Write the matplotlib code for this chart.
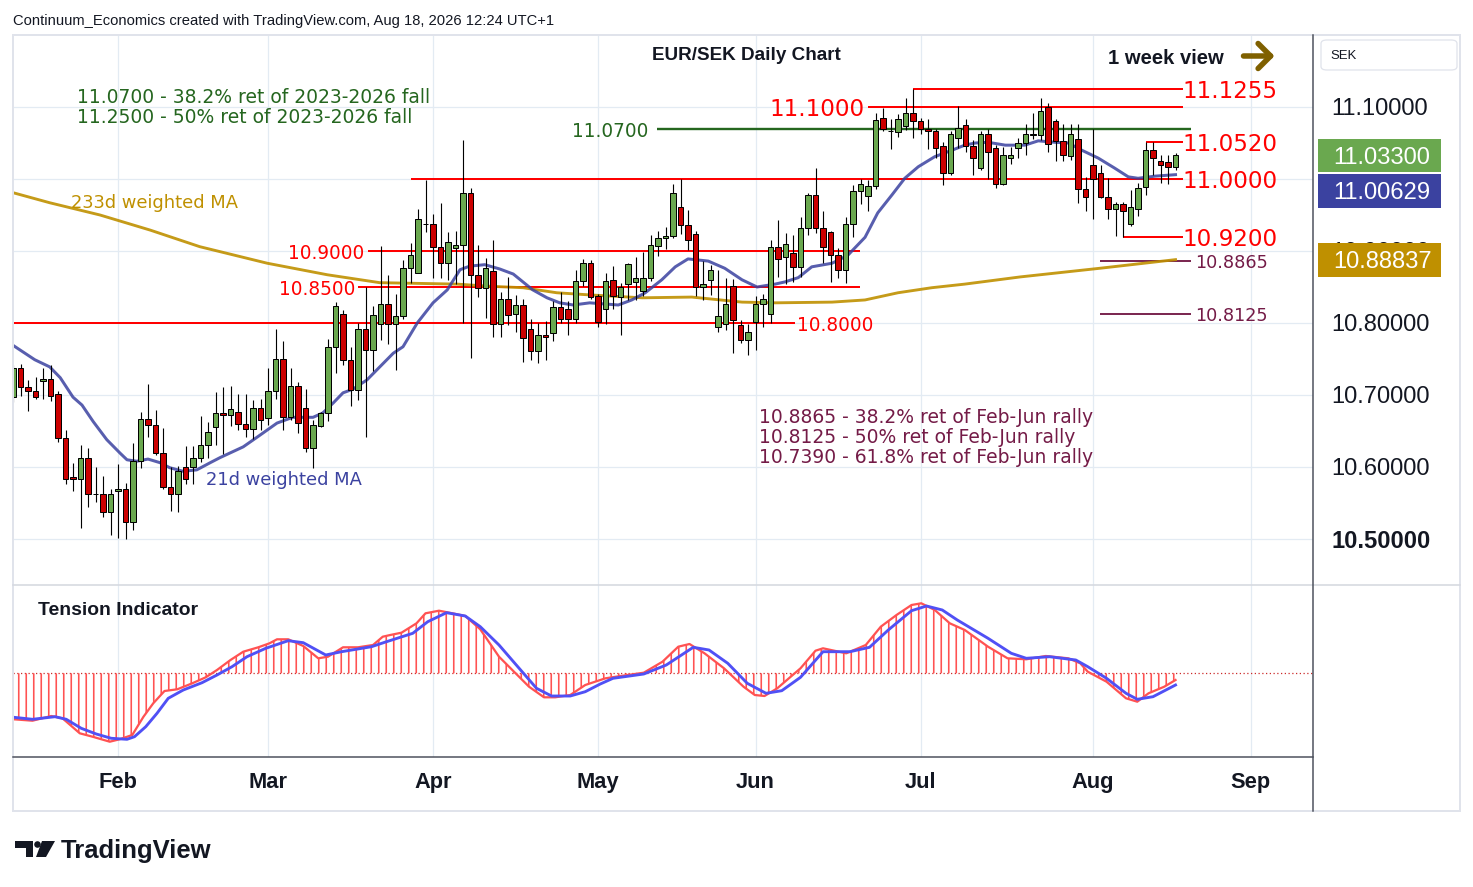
import numpy as np
import pandas as pd
import matplotlib
matplotlib.use("Agg")
import matplotlib.pyplot as plt
from matplotlib.patches import Rectangle, FancyBboxPatch, FancyArrowPatch, Polygon, Ellipse
from matplotlib.lines import Line2D
from matplotlib.transforms import ScaledTranslation

W, H, DPI = 1474, 887, 90

# daily EUR/SEK candles, one per weekday from 13 Jan 2026 to 18 Aug 2026
first_day = "2026-01-13"
opens = [10.697, 10.738, 10.711, 10.705, 10.719, 10.722, 10.702, 10.640, 10.586, 10.584,
         10.613, 10.563, 10.562, 10.538, 10.566, 10.570, 10.523, 10.609, 10.666, 10.659,
         10.619, 10.572, 10.562, 10.600, 10.600, 10.612, 10.631, 10.655, 10.675, 10.672,
         10.677, 10.660, 10.653, 10.682, 10.668, 10.705, 10.750, 10.669, 10.712, 10.682,
         10.627, 10.657, 10.675, 10.767, 10.813, 10.749, 10.707, 10.791, 10.762, 10.799,
         10.826, 10.799, 10.810, 10.877, 10.870, 10.938, 10.938, 10.905, 10.883, 10.904,
         10.909, 10.980, 10.866, 10.848, 10.872, 10.799, 10.834, 10.813, 10.825, 10.791,
         10.761, 10.784, 10.786, 10.822, 10.820, 10.805, 10.858, 10.884, 10.837, 10.819,
         10.860, 10.836, 10.854, 10.857, 10.845, 10.863, 10.907, 10.918, 10.921, 10.961,
         10.936, 10.923, 10.850, 10.860, 10.794, 10.799, 10.852, 10.797, 10.777, 10.801,
         10.826, 10.813, 10.905, 10.891, 10.897, 10.878, 10.932, 10.978, 10.932, 10.926,
         10.895, 10.874, 10.938, 10.984, 10.976, 10.990, 11.085, 11.067, 11.065, 11.073,
         11.091, 11.081, 11.069, 11.066, 11.046, 11.009, 11.057, 11.075, 11.046, 11.015,
         11.062, 11.043, 10.993, 11.029, 11.043, 11.050, 11.063, 11.061, 11.100, 11.080,
         11.053, 11.032, 11.055, 10.986, 11.019, 11.009, 10.975, 10.959, 10.965, 10.937,
         10.959, 10.989, 11.040, 11.025, 11.023, 11.016]
highs = [10.742, 10.743, 10.721, 10.725, 10.737, 10.741, 10.706, 10.652, 10.606, 10.631,
         10.626, 10.600, 10.587, 10.569, 10.604, 10.578, 10.633, 10.676, 10.715, 10.679,
         10.654, 10.600, 10.602, 10.629, 10.629, 10.671, 10.662, 10.704, 10.711, 10.712,
         10.701, 10.702, 10.693, 10.695, 10.738, 10.791, 10.775, 10.738, 10.718, 10.708,
         10.665, 10.677, 10.778, 10.829, 10.818, 10.766, 10.800, 10.850, 10.824, 10.907,
         10.867, 10.840, 10.888, 10.911, 10.958, 10.999, 10.951, 10.966, 10.926, 10.928,
         11.054, 10.987, 10.908, 10.890, 10.915, 10.843, 10.864, 10.839, 10.834, 10.805,
         10.800, 10.803, 10.830, 10.843, 10.831, 10.874, 10.889, 10.888, 10.840, 10.869,
         10.879, 10.855, 10.884, 10.891, 10.899, 10.922, 10.928, 10.934, 10.993, 11.000,
         10.957, 10.928, 10.886, 10.881, 10.874, 10.862, 10.861, 10.804, 10.798, 10.838,
         10.840, 10.915, 10.943, 10.925, 10.922, 10.947, 10.980, 11.015, 10.955, 10.928,
         10.904, 10.947, 10.992, 11.000, 10.999, 11.091, 11.098, 11.084, 11.090, 11.113,
         11.125, 11.085, 11.084, 11.070, 11.051, 11.066, 11.102, 11.084, 11.054, 11.066,
         11.069, 11.047, 11.045, 11.044, 11.057, 11.077, 11.091, 11.113, 11.105, 11.084,
         11.077, 11.077, 11.077, 11.003, 11.069, 11.019, 11.002, 10.968, 10.968, 10.985,
         10.994, 11.052, 11.052, 11.033, 11.034, 11.036]
lows = [10.690, 10.699, 10.678, 10.694, 10.694, 10.692, 10.635, 10.576, 10.566, 10.515,
        10.545, 10.552, 10.531, 10.505, 10.501, 10.500, 10.513, 10.598, 10.641, 10.616,
        10.569, 10.539, 10.537, 10.577, 10.577, 10.607, 10.612, 10.631, 10.618, 10.657,
        10.651, 10.641, 10.639, 10.651, 10.658, 10.694, 10.652, 10.665, 10.647, 10.621,
        10.598, 10.656, 10.664, 10.731, 10.742, 10.685, 10.693, 10.641, 10.734, 10.777,
        10.771, 10.735, 10.805, 10.855, 10.869, 10.927, 10.863, 10.863, 10.860, 10.854,
        10.800, 10.752, 10.836, 10.807, 10.780, 10.780, 10.797, 10.787, 10.746, 10.749,
        10.744, 10.749, 10.775, 10.800, 10.783, 10.800, 10.851, 10.833, 10.794, 10.799,
        10.819, 10.784, 10.832, 10.832, 10.837, 10.858, 10.893, 10.903, 10.918, 10.924,
        10.901, 10.837, 10.832, 10.839, 10.787, 10.790, 10.759, 10.772, 10.756, 10.762,
        10.795, 10.800, 10.864, 10.854, 10.857, 10.864, 10.922, 10.925, 10.883, 10.857,
        10.863, 10.855, 10.920, 10.965, 10.956, 10.986, 11.067, 11.041, 11.059, 11.068,
        11.057, 11.062, 11.041, 11.029, 10.992, 11.006, 11.043, 11.037, 11.006, 11.013,
        11.000, 10.987, 10.991, 11.021, 11.029, 11.034, 11.055, 11.054, 11.037, 11.025,
        11.025, 11.026, 10.967, 10.956, 10.944, 10.973, 10.944, 10.921, 10.920, 10.935,
        10.949, 10.978, 11.006, 10.994, 10.993, 11.012]
closes = [10.738, 10.711, 10.705, 10.697, 10.722, 10.699, 10.640, 10.583, 10.583, 10.613,
          10.563, 10.562, 10.538, 10.562, 10.569, 10.523, 10.609, 10.666, 10.659, 10.619,
          10.572, 10.562, 10.594, 10.584, 10.612, 10.631, 10.648, 10.675, 10.672, 10.680,
          10.660, 10.653, 10.682, 10.665, 10.705, 10.750, 10.669, 10.712, 10.661, 10.627,
          10.658, 10.675, 10.766, 10.824, 10.749, 10.707, 10.791, 10.762, 10.811, 10.826,
          10.799, 10.810, 10.877, 10.895, 10.945, 10.937, 10.906, 10.883, 10.913, 10.909,
          10.980, 10.866, 10.848, 10.877, 10.799, 10.833, 10.811, 10.825, 10.779, 10.761,
          10.784, 10.780, 10.822, 10.805, 10.805, 10.858, 10.884, 10.836, 10.802, 10.858,
          10.837, 10.850, 10.882, 10.863, 10.863, 10.909, 10.918, 10.921, 10.980, 10.936,
          10.915, 10.850, 10.854, 10.874, 10.810, 10.826, 10.804, 10.776, 10.787, 10.826,
          10.834, 10.905, 10.889, 10.910, 10.878, 10.932, 10.978, 10.932, 10.905, 10.895,
          10.874, 10.938, 10.984, 10.993, 10.990, 11.082, 11.070, 11.066, 11.084, 11.091,
          11.081, 11.069, 11.067, 11.043, 11.009, 11.063, 11.071, 11.046, 11.029, 11.062,
          11.037, 10.993, 11.033, 11.034, 11.050, 11.063, 11.061, 11.095, 11.049, 11.053,
          11.033, 11.062, 10.986, 10.975, 11.000, 10.975, 10.959, 10.965, 10.955, 10.961,
          10.988, 11.040, 11.029, 11.020, 11.016, 11.033]

# moving averages: (trading days from 2 Feb, value)
ma21 = [(-14, 10.769), (-11.1, 10.749), (-9.1, 10.739), (-7.7, 10.724), (-6, 10.697),
        (-4.8, 10.686), (-3.3, 10.663), (-1.5, 10.638), (0.3, 10.619), (1.2, 10.610),
        (2.5, 10.608), (4, 10.611), (5.6, 10.606), (6.9, 10.599), (8.7, 10.594),
        (10.5, 10.596), (12.3, 10.606), (13.6, 10.613), (16.7, 10.628), (18.9, 10.644),
        (21.2, 10.661), (23.3, 10.669), (26, 10.669), (27.3, 10.675), (28.7, 10.689),
        (30, 10.703), (31.3, 10.708), (33.2, 10.721), (34.9, 10.739), (36.7, 10.758),
        (38, 10.767), (39.9, 10.800), (42, 10.828), (43.9, 10.846), (45.6, 10.874),
        (46.9, 10.879), (48.9, 10.881), (50.9, 10.875), (52.7, 10.868), (54, 10.857),
        (55.3, 10.846), (57.2, 10.835), (58.9, 10.828), (60.7, 10.825), (62.9, 10.828),
        (66.7, 10.825), (68.5, 10.832), (70.3, 10.842), (72.5, 10.860), (74.3, 10.878),
        (76, 10.889), (78.7, 10.886), (80.9, 10.876), (83.2, 10.860), (85.2, 10.850),
        (87.6, 10.854), (88.9, 10.857), (90.7, 10.863), (92.5, 10.878), (95.2, 10.883),
        (97.3, 10.894), (99.6, 10.919), (101.3, 10.953), (103.2, 10.978), (104.9, 11.001),
        (106.7, 11.017), (108.9, 11.031), (111.2, 11.040), (112.9, 11.047), (114.3, 11.050),
        (116, 11.051), (118.3, 11.047), (120.9, 11.047), (122.7, 11.053), (124.9, 11.051),
        (126.7, 11.050), (128.5, 11.040), (130.7, 11.029), (132.9, 11.015), (134.7, 11.003),
        (136, 11.001), (138.3, 11.004), (141, 11.006)]
ma233 = [(-14, 10.981), (-9.1, 10.967), (-2.4, 10.950), (4.3, 10.929), (10.9, 10.906),
         (19.9, 10.883), (27.9, 10.867), (34.9, 10.856), (45.2, 10.854), (49.6, 10.851),
         (54, 10.849), (58.5, 10.842), (62.9, 10.839), (69.9, 10.835), (76.5, 10.836),
         (83.2, 10.829), (87.6, 10.828), (95.2, 10.829), (99.6, 10.832), (104, 10.842),
         (108.5, 10.849), (112.9, 10.854), (120.3, 10.864), (130.9, 10.876), (141, 10.888)]
ma21_last = 11.00629
ma233_last = 10.88837

# tension indicator (arbitrary units, zero = dotted line)
tension_fast = [(-13.9, -0.92), (-11.4, -0.948), (-8.9, -0.854), (-7.4, -0.90), (-5.1, -1.20),
                (-3.4, -1.268), (-1.1, -1.368), (0.2, -1.32), (1.9, -1.234), (3.4, -0.868),
                (4.7, -0.60), (6.2, -0.354), (7.9, -0.32), (9.9, -0.20), (11.7, -0.08),
                (13.2, 0.066), (15, 0.266), (16.7, 0.432), (18.7, 0.52), (20.2, 0.60),
                (21.2, 0.68), (22.7, 0.68), (24.7, 0.546), (26.7, 0.30), (28, 0.332),
                (30, 0.52), (32, 0.52), (34, 0.566), (35.3, 0.732), (36.3, 0.766),
                (37.8, 0.812), (39.8, 1.0), (41, 1.2), (42.8, 1.252), (44.6, 1.2),
                (46.3, 1.146), (48.3, 0.88), (50.8, 0.332), (52.8, 0.032), (54.8, -0.268),
                (56.8, -0.48), (58.3, -0.48), (60.3, -0.434), (62.3, -0.234), (64.3, -0.134),
                (65, -0.10), (67, -0.054), (70.1, 0.012), (72.6, 0.232), (74.7, 0.532),
                (76.2, 0.586), (78.2, 0.40), (80.8, 0.10), (83.4, -0.268), (84.9, -0.434),
                (86.2, -0.454), (87.9, -0.30), (91, 0.10), (93, 0.452), (94, 0.50),
                (97.1, 0.40), (99.7, 0.566), (101.7, 0.932), (103.8, 1.166), (105.8, 1.366),
                (107.1, 1.40), (108.9, 1.266), (110.9, 1.0), (112.9, 0.866), (116, 0.532),
                (118.6, 0.30), (121.1, 0.28), (123.7, 0.346), (126.7, 0.30), (128.3, 0.20),
                (129.3, 0.032), (131.8, -0.168), (134.4, -0.50), (135.9, -0.568), (137.4, -0.40),
                (139.5, -0.268), (141, -0.134)]
tension_slow = [(-13.9, -0.88), (-11.4, -0.92), (-8.4, -0.868), (-6.9, -0.92), (-4.9, -1.10),
                (-2.9, -1.214), (-0.9, -1.30), (1.2, -1.32), (2.2, -1.268), (3.7, -1.068),
                (5.2, -0.80), (6.7, -0.50), (8.7, -0.334), (11.2, -0.188), (13.2, -0.034),
                (15.2, 0.132), (17.2, 0.332), (19.7, 0.50), (22.7, 0.652), (24.7, 0.612),
                (27.7, 0.366), (29.8, 0.432), (33.8, 0.532), (35.8, 0.632), (39.3, 0.80),
                (41.3, 1.032), (43.8, 1.212), (46.3, 1.146), (48.3, 0.932), (50.8, 0.566),
                (53.3, 0.132), (55.8, -0.30), (57.8, -0.454), (60.3, -0.454), (62.3, -0.368),
                (64.3, -0.214), (66, -0.10), (70.1, -0.014), (73.1, 0.166), (76.7, 0.52),
                (78.8, 0.466), (81.3, 0.20), (83.9, -0.20), (86.4, -0.40), (88.5, -0.348),
                (91, -0.08), (94, 0.432), (97.6, 0.432), (100.2, 0.52), (102.7, 0.866),
                (105.8, 1.252), (107.8, 1.346), (109.9, 1.266), (111.9, 1.066), (116, 0.70),
                (119.1, 0.40), (121.1, 0.30), (124.2, 0.332), (127.7, 0.266), (129.3, 0.132),
                (131.8, -0.10), (134.4, -0.40), (135.9, -0.52), (138, -0.468), (141, -0.234)]

# drawn levels: price, start and end (trading days from 2 Feb)
red_levels = [11.1255, 11.1000, 11.0520, 11.0000, 10.9200, 10.9000, 10.8500, 10.8000]
red_from = [106, 100, 137, 39, 134, 33.3, 32, -14]
red_to = [142, 142, 142, 142, 142, 98.9, 98.9, 90.3]
fib_fall = 11.0700
fib_rally = [10.8865, 10.8125]

price_ticks = [10.5, 10.6, 10.7, 10.8, 10.9, 11.0, 11.1]
months = ["Feb", "Mar", "Apr", "May", "Jun", "Jul", "Aug", "Sep"]

GREEN = "#6aa84f"
RED = "#cc0000"
LEVEL = "#ff0000"
DKGREEN = "#25661f"
PURPLE = "#741b47"
GOLD = "#bf9000"
BLUE = "#3b42a0"
GRID = "#e3ebf3"
INK = "#131722"

plt.rcParams["font.family"] = ["DejaVu Sans"]
plt.rcParams["hatch.linewidth"] = 1.3
plt.rcParams["hatch.color"] = "#ff5252"


def fig_xy(x, y):
    return x / W, 1 - y / H


days = pd.bdate_range(first_day, "2026-09-30")
n = len(opens)
pos = np.arange(n)
feb2 = int(np.searchsorted(days, pd.Timestamp("2026-02-02")))
month_pos = [int(np.searchsorted(days, pd.Timestamp(2026, m, 1))) for m in range(2, 10)]

fig = plt.figure(figsize=(W / DPI, H / DPI), dpi=DPI)
ax = fig.add_axes([13 / W, 1 - 585 / H, 1300 / W, 550 / H])
axl = fig.add_axes([13 / W, 1 - 757 / H, 1300 / W, 172 / H])

for a in (ax, axl):
    a.set_xlim(0, 173.33)
    for s in a.spines.values():
        s.set_visible(False)
    a.set_xticks(month_pos)
    a.set_axisbelow(True)

# ---- price panel ----
ax.set_ylim(10.4361, 11.2)
ax.set_yticks(price_ticks)
ax.set_yticklabels(["" if p == 11.0 else f"{p:.5f}" for p in price_ticks])
ax.yaxis.tick_right()
ax.tick_params(axis="y", length=0, pad=15, labelsize=19, labelcolor=INK)
ax.tick_params(axis="x", length=0, labelbottom=False)
for t in ax.get_yticklabels():
    t.set_fontfamily("Liberation Sans")
ax.get_yticklabels()[0].set_fontweight("bold")
ax.grid(True, color=GRID, lw=1)

o, h, l, c = map(np.array, (opens, highs, lows, closes))
colors = np.where(c >= o, GREEN, RED)
ax.vlines(pos, l, h, color="black", lw=0.9, zorder=3)
ax.bar(pos, np.abs(c - o), bottom=np.minimum(o, c), width=0.72, color=colors,
       edgecolor="black", linewidth=0.8, zorder=4)

mx, mv = zip(*ma233)
ax.plot(np.array(mx) + feb2, mv, color=GOLD, lw=2.3, alpha=0.9, zorder=2.5)
mx, mv = zip(*ma21)
ax.plot(np.array(mx) + feb2, mv, color=BLUE, lw=2.4, alpha=0.85, zorder=2.6)

for p, a, b in zip(red_levels, red_from, red_to):
    ax.hlines(p, a + feb2, b + feb2, color=LEVEL, lw=1.6, zorder=2)
ax.hlines(fib_fall, 71.9 + feb2, 143 + feb2, color=DKGREEN, lw=1.9, zorder=2)
ax.hlines(fib_rally, 130.9 + feb2, 143 + feb2, color=PURPLE, lw=1.5, zorder=2)

# level labels sit a touch lower than the plain centre alignment
lbl = ax.transData + ScaledTranslation(0, -2.5 / DPI, fig.dpi_scale_trans)
big, small = 18.4, 14.8
ax.text(99.5 + feb2, red_levels[1], f"{red_levels[1]:.4f}", ha="right", va="center",
        color=LEVEL, fontsize=big, zorder=6, transform=lbl)
for p in (red_levels[0], red_levels[2], red_levels[3], red_levels[4]):
    ax.text(141.9 + feb2, p, f"{p:.4f}", ha="left", va="center", color=LEVEL,
            fontsize=big, zorder=6, transform=lbl)
ax.text(32.8 + feb2, red_levels[5], f"{red_levels[5]:.4f}", ha="right", va="center",
        color=LEVEL, fontsize=small, zorder=6, transform=lbl)
ax.text(31.6 + feb2, red_levels[6], f"{red_levels[6]:.4f}", ha="right", va="center",
        color=LEVEL, fontsize=small, zorder=6, transform=lbl)
ax.text(90.5 + feb2, red_levels[7], f"{red_levels[7]:.4f}", ha="left", va="center",
        color=LEVEL, fontsize=small, zorder=6, transform=lbl)
ax.text(70.7 + feb2, fib_fall, f"{fib_fall:.4f}", ha="right", va="center",
        color=DKGREEN, fontsize=small, zorder=6, transform=lbl)
for p in fib_rally:
    ax.text(143.6 + feb2, p, f"{p:.4f}", ha="left", va="center", color=PURPLE,
            fontsize=14.1, zorder=6, transform=lbl)

# ---- tension indicator ----
axl.set_ylim(-1.674, 1.766)
axl.set_yticks([])
tx, tv = zip(*tension_fast)
tx = np.array(tx) + feb2
axl.fill_between(tx, 0, tv, facecolor="none", edgecolor="#ff5252", hatch="||",
                 linewidth=0, zorder=2)
axl.plot(tx, tv, color="#ff5252", lw=1.8, zorder=3)
sx, sv = zip(*tension_slow)
axl.plot(np.array(sx) + feb2, sv, color="#5050f5", lw=2.3, zorder=4)
axl.axhline(0, color="#cc2a2a", lw=1, ls=(0, (1, 2)), zorder=1)
axl.set_xticklabels(months)
axl.tick_params(axis="x", length=0, pad=12, labelsize=17.5, labelcolor=INK)
for t in axl.get_xticklabels():
    t.set_fontfamily("Liberation Sans")
    t.set_fontweight("bold")
axl.grid(axis="x", color=GRID, lw=1)

# ---- frame ----
fig.add_artist(Rectangle(fig_xy(13, 811), 1447 / W, 776 / H, fill=False,
                         edgecolor="#e0e3eb", lw=1.6))
fig.add_artist(Line2D([13 / W, 1460 / W], [1 - 585 / H] * 2, color="#d6d9e0", lw=1.3))
fig.add_artist(Line2D([13 / W, 1313 / W], [1 - 757 / H] * 2, color="#4a4e5a", lw=1.2))
fig.add_artist(Line2D([1313 / W] * 2, [1 - 35 / H, 1 - 811 / H], color="#4a4e5a", lw=1.2))

# ---- texts ----
fig.text(*fig_xy(13, 21), "Continuum_Economics created with TradingView.com, Aug 18, 2026 12:24 UTC+1",
         va="center", fontsize=11.8, family="Liberation Sans", color=INK)
fig.text(*fig_xy(746, 55), "EUR/SEK Daily Chart", ha="center", va="center",
         fontsize=15.1, family="Liberation Sans", weight="bold", color=INK)
fig.text(*fig_xy(1108, 58), "1 week view", va="center", fontsize=16.2,
         family="Liberation Sans", weight="bold", color=INK)
fig.add_artist(FancyArrowPatch(fig_xy(1241, 56), fig_xy(1277, 56),
                               arrowstyle="->,head_length=0.5,head_width=0.5",
                               mutation_scale=20, lw=4.4, color="#7f6000",
                               capstyle="round", joinstyle="round"))

fig.text(*fig_xy(77, 97.5), "11.0700 - 38.2% ret of 2023-2026 fall", va="center",
         fontsize=15, color=DKGREEN)
fig.text(*fig_xy(77, 117.5), "11.2500 - 50% ret of 2023-2026 fall", va="center",
         fontsize=15, color=DKGREEN)
fig.text(*fig_xy(71, 203), "233d weighted MA", va="center", fontsize=14.3, color=GOLD)
fig.text(*fig_xy(206, 480), "21d weighted MA", va="center", fontsize=14.3, color=BLUE)
for k, line in enumerate(["10.8865 - 38.2% ret of Feb-Jun rally",
                          "10.8125 - 50% ret of Feb-Jun rally",
                          "10.7390 - 61.8% ret of Feb-Jun rally"]):
    fig.text(*fig_xy(759, 417.5 + 20 * k), line, va="center", fontsize=15, color=PURPLE)
fig.text(*fig_xy(38, 610.5), "Tension Indicator", va="center", fontsize=15.5,
         family="Liberation Sans", weight="bold", color=INK)

# price scale tags
fig.add_artist(FancyBboxPatch(fig_xy(1321, 70), 136 / W, 30 / H,
                              boxstyle="round,pad=0,rounding_size=0.004",
                              facecolor="white", edgecolor="#e0e3eb", lw=1))
fig.text(*fig_xy(1330, 56), "SEK", va="center", fontsize=10.5,
         family="Liberation Sans", color=INK)
for y1, y2, col, val in [(139, 172, GREEN, closes[-1]), (174, 208, BLUE, ma21_last),
                         (243, 277, GOLD, ma233_last)]:
    fig.add_artist(Rectangle(fig_xy(1318, y2), 123 / W, (y2 - y1) / H,
                             facecolor=col, edgecolor="none"))
    fig.text(*fig_xy(1333, (y1 + y2) / 2 + 2), f"{val:.5f}", va="center", fontsize=19,
             family="Liberation Sans", color="white")

# TradingView logo
fig.add_artist(Polygon([fig_xy(15, 841), fig_xy(33, 841), fig_xy(33, 857),
                        fig_xy(26, 857), fig_xy(26, 848), fig_xy(15, 848)],
                       closed=True, facecolor=INK, edgecolor="none"))
fig.add_artist(Ellipse(fig_xy(37.5, 844.5), 6.6 / W, 6.6 / H, facecolor=INK, edgecolor="none"))
fig.add_artist(Polygon([fig_xy(42, 841), fig_xy(55, 841), fig_xy(46, 857), fig_xy(36, 857)],
                       closed=True, facecolor=INK, edgecolor="none"))
fig.text(*fig_xy(61, 851), "TradingView", va="center", fontsize=20.5,
         family="Liberation Sans", weight="bold", color=INK)

fig.savefig("out.png", dpi=DPI, facecolor="white")
